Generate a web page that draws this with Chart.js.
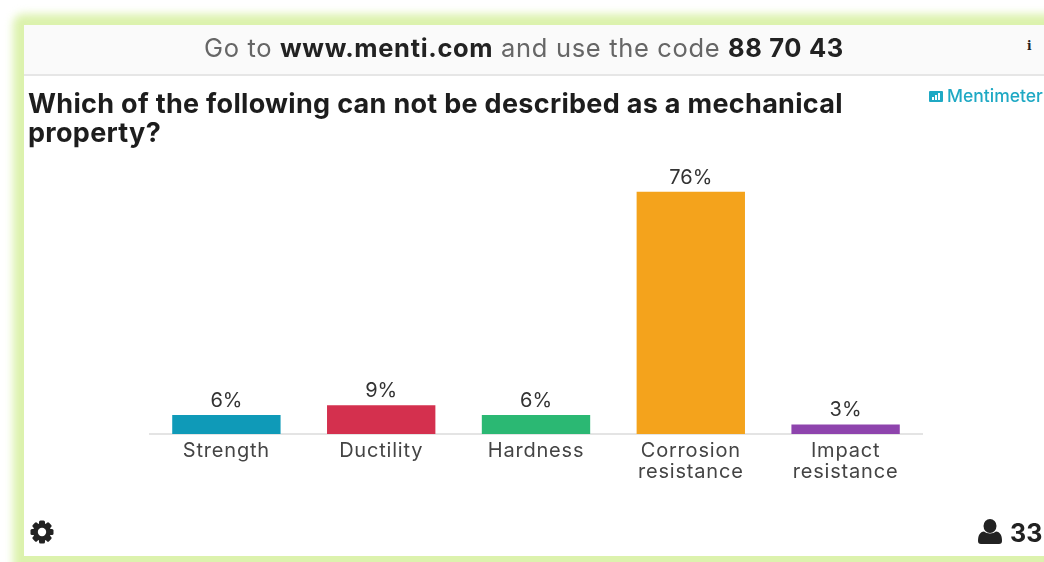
<!DOCTYPE html>
<html lang="en">
<head>
  <meta charset="UTF-8">
  <title>Mentimeter results</title>
  <style>
    body, html { margin:0; padding:0; overflow:hidden; background:#fff; width:1044px; height:562px; }
    #glow { position:absolute; left:13px; top:14px; width:1100px; height:600px; background:#dcf2ad;
            border-radius:10px; filter:blur(4px); }
    #card { position:absolute; left:24px; top:25px; width:1100px; height:531px; background:#fff; }
    #head { position:absolute; left:24px; top:25px; width:1020px; height:49px; background:#fafafa;
            border-bottom:2px solid #e6e6e6; font-family:Inter, sans-serif; font-size:25.5px; letter-spacing:.66px; line-height:46px;
            color:#666; white-space:nowrap; }
    #head span { position:absolute; left:180px; top:0; filter:blur(.4px); }
    #head b { color:#222; font-weight:700; }
    #info { position:absolute; left:1027px; top:39px; font:bold 12px "DejaVu Serif", serif; color:#222; }
    #title { position:absolute; left:28px; top:89px; font-family:Inter, sans-serif; font-weight:700; letter-spacing:.3px;
             font-size:27px; line-height:29px; color:#1d1d1d; white-space:nowrap; filter:blur(.4px); }
    #brand { position:absolute; left:947px; top:86px; font-family:Inter, sans-serif; font-size:17.5px; font-weight:500;
             line-height:20px; color:#1fa9c4; white-space:nowrap; filter:blur(.3px); }
    #logo { position:absolute; left:929px; top:91px; filter:blur(.3px); }
    #gear { position:absolute; left:29px; top:519px; filter:blur(.4px); }
    #user { position:absolute; left:978px; top:519px; filter:blur(.4px); }
    #count { position:absolute; left:1010px; top:517px; font-family:Inter, sans-serif; font-weight:700; font-size:25px;
             line-height:32px; color:#222; filter:blur(.3px); }
    #wrap { position:absolute; left:149px; top:150px; width:774px; height:338px; filter:blur(.4px); }
  </style>
</head>
<body>
  <div id="glow"></div>
  <div id="card"></div>
  <div id="head"><span>Go to <b>www.menti.com</b> and use the code <b>88 70 43</b></span></div>
  <div id="info">i</div>
  <div id="title">Which of the following can not be described as a mechanical<br>property?</div>
  <svg id="logo" width="15" height="11" viewBox="0 0 15 11">
    <rect width="14" height="11" rx="1" fill="#1fa9c4"/>
    <rect x="3" y="6" width="2" height="3" fill="#fff"/><rect x="6" y="4" width="2" height="5" fill="#fff"/><rect x="9" y="2" width="2" height="7" fill="#fff"/>
  </svg>
  <div id="brand">Mentimeter</div>
  <div id="wrap"><canvas id="chart"></canvas></div>
  <svg id="gear" width="26" height="26" viewBox="0 0 26 26">
    <g fill="#222">
      <circle cx="13" cy="13" r="9"/>
      <rect x="10" y="1.500" width="6" height="23" rx="1.500"/>
      <rect x="10" y="1.500" width="6" height="23" rx="1.500" transform="rotate(45 13 13)"/>
      <rect x="10" y="1.500" width="6" height="23" rx="1.500" transform="rotate(90 13 13)"/>
      <rect x="10" y="1.500" width="6" height="23" rx="1.500" transform="rotate(135 13 13)"/>
    </g>
    <circle cx="13" cy="13" r="4.200" fill="#fff"/>
  </svg>
  <svg id="user" width="24" height="26" viewBox="0 0 24 26">
    <ellipse cx="12" cy="7" rx="6.500" ry="7" fill="#222"/>
    <path d="M0 22c0-6 2-9 6-9.500 3 2.500 9 2.500 12 0 4 .5 6 3.500 6 9.500 0 2-1 3-3 3H3c-2 0-3-1-3-3z" fill="#222"/>
  </svg>
  <div id="count">33</div>

  <script src="https://cdn.jsdelivr.net/npm/chart.js"></script>
  <script>
    const categories = ['Strength', 'Ductility', 'Hardness', ['Corrosion', 'resistance'], ['Impact', 'resistance']];
    const percents = [6, 9, 6, 76, 3];
    const barColors = ['#0f9ab8', '#d4304e', '#2bb873', '#f4a31c', '#8e44ad'];

    // percent labels above the bars, and the wider tracking of the original font
    const valueLabels = {
      id: 'valueLabels',
      beforeDraw(chart) {
        chart.ctx.letterSpacing = '0.8px';
      },
      afterDatasetsDraw(chart) {
        const c = chart.ctx;
        c.save();
        c.font = '20px Inter, sans-serif';
        c.letterSpacing = '0px';
        c.fillStyle = '#333';
        c.textAlign = 'center';
        c.textBaseline = 'alphabetic';
        chart.getDatasetMeta(0).data.forEach((bar, i) => {
          c.fillText(percents[i] + '%', bar.x, bar.y - 8);
        });
        c.restore();
      }
    };

    new Chart(document.getElementById('chart'), {
      type: 'bar',
      data: { labels: categories, datasets: [{ data: percents, backgroundColor: barColors,
        barPercentage: 0.7, categoryPercentage: 1 }] },
      plugins: [valueLabels],
      options: {
        responsive: true,
        maintainAspectRatio: false,
        animation: false,
        layout: { padding: { top: 29 } },
        plugins: { legend: { display: false }, tooltip: { enabled: false } },
        scales: {
          x: {
            grid: { display: false, drawTicks: false },
            border: { color: '#e4e4e4', width: 2 },
            ticks: { color: '#444', font: { family: 'Inter, sans-serif', size: 20, lineHeight: 1.05 }, padding: 6, maxRotation: 0 }
          },
          y: { display: false, min: 0, max: 80 }
        }
      }
    });
  </script>
</body>
</html>
